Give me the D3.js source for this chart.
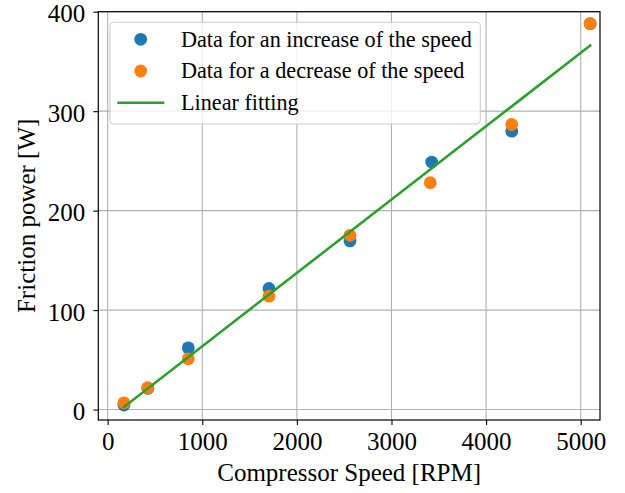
<!DOCTYPE html>
<html>
<head>
<meta charset="utf-8">
<script src="https://cdn.jsdelivr.net/npm/d3@7"></script>
<style>
  html, body { margin: 0; padding: 0; background: #ffffff; }
  svg { display: block; }
  text { font-family: "Liberation Serif", "Times New Roman", serif; fill: #000; }
</style>
</head>
<body>
<svg id="chart" width="625" height="493"></svg>
<script>
// Measured friction power versus compressor speed
const speedIncrease = [172, 425, 852, 1705, 2561, 3425, 4271, 5100];
const powerIncrease = [4.5, 21.3, 62.0, 121.7, 169.5, 248.8, 279.9, 388.0];
const speedDecrease = [172, 423, 852, 1705, 2561, 3410, 4271, 5100];
const powerDecrease = [6.8, 21.9, 51.0, 114.0, 175.2, 228.1, 286.6, 388.0];

const xTicks = [0, 1000, 2000, 3000, 4000, 5000];
const yTicks = [0, 100, 200, 300, 400];
const legendLabels = [
  "Data for an increase of the speed",
  "Data for a decrease of the speed",
  "Linear fitting"
];

const COLORS = { up: "#1f77b4", down: "#ff7f0e", fit: "#2ca02c" };

// Least-squares straight line through both runs
const allX = speedIncrease.concat(speedDecrease);
const allY = powerIncrease.concat(powerDecrease);
const mx = d3.mean(allX), my = d3.mean(allY);
const slope = d3.sum(allX, (x, i) => (x - mx) * (allY[i] - my)) /
              d3.sum(allX, x => (x - mx) * (x - mx));
const intercept = my - slope * mx;
const fitX = [d3.min(allX), d3.max(allX)];

const plot = { left: 98.3, right: 600, top: 11.7, bottom: 420 };

const x = d3.scaleLinear().domain([-99, 5204]).range([plot.left, plot.right]);
const y = d3.scaleLinear().domain([-10.5, 400]).range([plot.bottom, plot.top]);

const svg = d3.select("#chart");

// grid
const grid = svg.append("g").attr("stroke", "#b0b0b0").attr("stroke-width", 1.1);
grid.selectAll("line.gx").data(xTicks).join("line")
  .attr("x1", d => x(d)).attr("x2", d => x(d))
  .attr("y1", plot.top).attr("y2", plot.bottom);
grid.selectAll("line.gy").data(yTicks).join("line")
  .attr("x1", plot.left).attr("x2", plot.right)
  .attr("y1", d => y(d)).attr("y2", d => y(d));

// markers
const R = 6.4;
svg.append("g").selectAll("circle").data(speedIncrease).join("circle")
  .attr("cx", d => x(d)).attr("cy", (d, i) => y(powerIncrease[i]))
  .attr("r", R).attr("fill", COLORS.up);
svg.append("g").selectAll("circle").data(speedDecrease).join("circle")
  .attr("cx", d => x(d)).attr("cy", (d, i) => y(powerDecrease[i]))
  .attr("r", R).attr("fill", COLORS.down);

// fitted line
svg.append("path")
  .datum(fitX)
  .attr("fill", "none")
  .attr("stroke", COLORS.fit)
  .attr("stroke-width", 2.6)
  .attr("stroke-linecap", "square")
  .attr("d", d3.line().x(d => x(d)).y(d => y(slope * d + intercept)));

// axes
const xAxis = svg.append("g")
  .attr("transform", `translate(0,${plot.bottom})`)
  .call(d3.axisBottom(x).tickValues(xTicks).tickSize(5).tickPadding(7).tickFormat(d3.format("d")));
const yAxis = svg.append("g")
  .attr("transform", `translate(${plot.left},0)`)
  .call(d3.axisLeft(y).tickValues(yTicks).tickSize(5).tickPadding(8).tickFormat(d3.format("d")));
[xAxis, yAxis].forEach(a => {
  a.select(".domain").remove();
  a.selectAll(".tick line").attr("stroke", "#000").attr("stroke-width", 1.1);
  a.selectAll(".tick text").attr("font-size", 25)
    .attr("font-family", "'Liberation Serif', 'Times New Roman', serif");
});
yAxis.selectAll(".tick text").attr("dy", "0.40em");

// frame
svg.append("rect")
  .attr("x", plot.left).attr("y", plot.top)
  .attr("width", plot.right - plot.left).attr("height", plot.bottom - plot.top)
  .attr("fill", "none").attr("stroke", "#000").attr("stroke-width", 1.2);

// axis titles
svg.append("text")
  .attr("x", (plot.left + plot.right) / 2).attr("y", 481)
  .attr("text-anchor", "middle").attr("font-size", 25)
  .text("Compressor Speed [RPM]");
svg.append("text")
  .attr("transform", `translate(35,${(plot.top + plot.bottom) / 2}) rotate(-90)`)
  .attr("text-anchor", "middle").attr("font-size", 25)
  .text("Friction power [W]");

// legend
const legend = svg.append("g");
legend.append("rect")
  .attr("x", 110).attr("y", 22.3).attr("width", 370.3).attr("height", 101.7)
  .attr("rx", 4).attr("ry", 4)
  .attr("fill", "#ffffff").attr("fill-opacity", 0.8)
  .attr("stroke", "#cccccc").attr("stroke-width", 1.1);
const rowY = [39.3, 71, 102.7];
legend.append("circle").attr("cx", 140.7).attr("cy", rowY[0]).attr("r", R).attr("fill", COLORS.up);
legend.append("circle").attr("cx", 140.7).attr("cy", rowY[1]).attr("r", R).attr("fill", COLORS.down);
legend.append("line")
  .attr("x1", 117.3).attr("x2", 164.3).attr("y1", rowY[2]).attr("y2", rowY[2])
  .attr("stroke", COLORS.fit).attr("stroke-width", 2.6);
legend.selectAll("text.lbl").data(legendLabels).join("text")
  .attr("class", "lbl")
  .attr("x", 181).attr("y", (d, i) => rowY[i] + 7.4)
  .attr("font-size", 22.2)
  .text(d => d);
</script>
</body>
</html>
